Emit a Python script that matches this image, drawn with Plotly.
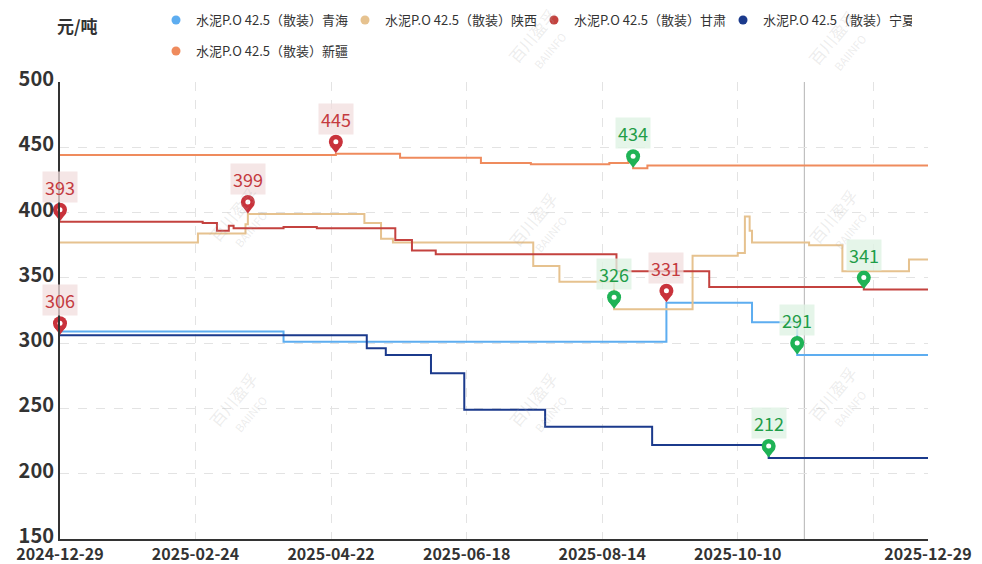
import plotly.graph_objects as go

# ---------------- data ----------------
series_names = [
    "水泥P.O 42.5（散装）青海",
    "水泥P.O 42.5（散装）陕西",
    "水泥P.O 42.5（散装）甘肃",
    "水泥P.O 42.5（散装）宁夏",
    "水泥P.O 42.5（散装）新疆",
]
series_colors = ["#5dadf0", "#e6c28f", "#c4423f", "#1b3a8c", "#ef8b5d"]

qinghai_dates = ["2024-12-29", "2025-04-02", "2025-09-10", "2025-10-16", "2025-11-04", "2025-12-29"]
qinghai_values = [309, 301, 331, 316, 291, 291]

shaanxi_dates = ["2024-12-29", "2025-02-25", "2025-03-17", "2025-03-18", "2025-05-06", "2025-05-13",
                 "2025-05-18", "2025-07-16", "2025-07-27", "2025-08-19", "2025-09-21", "2025-10-10",
                 "2025-10-13", "2025-10-15", "2025-10-16", "2025-11-09", "2025-11-23", "2025-12-21",
                 "2025-12-29"]
shaanxi_values = [377, 384, 391, 399, 392, 380, 377, 359, 347, 326, 367, 369, 397, 386, 377, 375, 355, 364, 364]

gansu_dates = ["2024-12-29", "2025-02-27", "2025-03-05", "2025-03-10", "2025-03-12", "2025-04-02",
               "2025-04-16", "2025-05-19", "2025-05-26", "2025-06-05", "2025-08-20", "2025-09-28",
               "2025-12-02", "2025-12-29"]
gansu_values = [393, 392, 386, 390, 388, 389, 388, 379, 371, 368, 355, 343, 341, 341]

ningxia_dates = ["2024-12-29", "2025-05-07", "2025-05-15", "2025-06-03", "2025-06-17", "2025-07-21",
                 "2025-09-04", "2025-10-23", "2025-12-29"]
ningxia_values = [306, 296, 291, 277, 249, 236, 222, 212, 212]

xinjiang_dates = ["2024-12-29", "2025-04-24", "2025-05-21", "2025-06-24", "2025-07-15", "2025-08-17",
                  "2025-08-25", "2025-08-26", "2025-08-27", "2025-09-02", "2025-12-29"]
xinjiang_values = [444, 445, 442, 438, 437, 438, 439, 443, 434, 436, 436]

x_tickvals = ["2024-12-29", "2025-02-24", "2025-04-22", "2025-06-18", "2025-08-14",
              "2025-10-10", "2025-12-06", "2025-12-29"]
x_ticktext = ["2024-12-29", "2025-02-24", "2025-04-22", "2025-06-18", "2025-08-14",
              "2025-10-10", "", "2025-12-29"]
y_tickvals = [150, 200, 250, 300, 350, 400, 450, 500]
crosshair_date = "2025-11-07"
unit_label = "元/吨"
watermark_text = "百川盈孚<br><span style='font-size:11px'>BAIINFO</span>"

all_dates = [qinghai_dates, shaanxi_dates, gansu_dates, ningxia_dates, xinjiang_dates]
all_values = [qinghai_values, shaanxi_values, gansu_values, ningxia_values, xinjiang_values]

# ---------------- layout constants ----------------
W, H = 982, 564
ML, MR, MT, MB = 60, 54, 82, 25
PLOT_W = W - ML - MR
PLOT_H = H - MT - MB
Y0, Y1 = 150, 500
UNIT_PER_PX = (Y1 - Y0) / PLOT_H
FONT = "Noto Sans CJK SC"


def px_x(px):
    return (px - ML) / PLOT_W


def px_y(py):
    return (H - MB - py) / PLOT_H


fig = go.Figure()

for name, color, d, v in zip(series_names, series_colors, all_dates, all_values):
    fig.add_trace(go.Scatter(x=d, y=v, mode="lines", line=dict(color=color, width=2, shape="hv"),
                             name=name, showlegend=False, hoverinfo="skip"))

# legend entries (circle symbols)
for i, (name, color) in enumerate(zip(series_names, series_colors)):
    fig.add_trace(go.Scatter(x=[None], y=[None], mode="markers",
                             marker=dict(color=color, size=9, symbol="circle"),
                             name=name, legend="legend" if i < 4 else "legend2"))

# max / min pins
pins = {"max": dict(x=[], y=[], color="#c9323b", text="#c43a3f", bg="rgba(242,222,222,0.75)"),
        "min": dict(x=[], y=[], color="#1fb356", text="#1f9d48", bg="rgba(222,242,228,0.8)")}
for d, v in zip(all_dates, all_values):
    imax = v.index(max(v))
    imin = v.index(min(v))
    pins["max"]["x"].append(d[imax]); pins["max"]["y"].append(v[imax])
    pins["min"]["x"].append(d[imin]); pins["min"]["y"].append(v[imin])

for key, p in pins.items():
    tri_y = [y + 6 * UNIT_PER_PX for y in p["y"]]
    head_y = [y + 12 * UNIT_PER_PX for y in p["y"]]
    fig.add_trace(go.Scatter(x=p["x"], y=tri_y, mode="markers", cliponaxis=False, showlegend=False,
                             hoverinfo="skip",
                             marker=dict(symbol="triangle-down", size=11, color=p["color"], line=dict(width=0))))
    fig.add_trace(go.Scatter(x=p["x"], y=head_y, mode="markers", cliponaxis=False, showlegend=False,
                             hoverinfo="skip",
                             marker=dict(symbol="circle", size=14, color=p["color"], line=dict(width=0))))
    fig.add_trace(go.Scatter(x=p["x"], y=head_y, mode="markers", cliponaxis=False, showlegend=False,
                             hoverinfo="skip",
                             marker=dict(symbol="circle", size=5, color="white", line=dict(width=0))))
    for x, y in zip(p["x"], p["y"]):
        fig.add_annotation(x=x, y=y, text=str(y), showarrow=False, yshift=35,
                           font=dict(family=FONT, size=18, color=p["text"]),
                           bgcolor=p["bg"], borderpad=2)

# crosshair line
fig.add_shape(type="line", x0=crosshair_date, x1=crosshair_date, xref="x", yref="paper", y0=0, y1=1,
              line=dict(color="#b4b4b4", width=1), layer="below")

# watermarks
for wx, wy in [(240, 220), (540, 225), (840, 222), (240, 405), (540, 405), (840, 400), (540, 42), (840, 44)]:
    fig.add_annotation(xref="paper", yref="paper", x=px_x(wx), y=px_y(wy), xanchor="center", yanchor="middle",
                       text=watermark_text, showarrow=False, textangle=-50,
                       font=dict(family=FONT, size=16, color="rgba(170,170,170,0.22)"))

# unit title
fig.add_annotation(xref="paper", yref="paper", x=px_x(77), y=px_y(25), xanchor="center", yanchor="middle",
                   text="<b>" + unit_label + "</b>", showarrow=False,
                   font=dict(family=FONT, size=17, color="#333333"))

fig.update_layout(
    width=W, height=H,
    margin=dict(l=ML, r=MR, t=MT, b=MB, autoexpand=False),
    paper_bgcolor="white", plot_bgcolor="white",
    font=dict(family=FONT, color="#333333"),
    legend=dict(orientation="h", x=px_x(156), xanchor="left",
                y=px_y(20), yanchor="middle",
                font=dict(family=FONT, size=13, color="#333333"),
                entrywidth=144, entrywidthmode="pixels", itemwidth=30, bgcolor="rgba(0,0,0,0)"),
    legend2=dict(orientation="h", x=px_x(156), xanchor="left",
                 y=px_y(51), yanchor="middle",
                 font=dict(family=FONT, size=13, color="#333333"),
                 itemwidth=30, bgcolor="rgba(0,0,0,0)"),
    xaxis=dict(type="date", range=[x_tickvals[0], x_tickvals[-1]], tickvals=x_tickvals, ticktext=x_ticktext,
               showgrid=True, gridcolor="#e3e3e3", griddash="dash", gridwidth=1,
               showline=True, linecolor="#333333", linewidth=2, ticks="", automargin=False,
               ticklabelstandoff=0,
               tickfont=dict(family=FONT, size=16, color="#333333", weight="bold")),
    yaxis=dict(range=[Y0, Y1], tickvals=y_tickvals, showgrid=True, gridcolor="#e3e3e3", griddash="dash",
               gridwidth=1, zeroline=False, showline=True, linecolor="#333333", linewidth=2, ticks="",
               ticklabelshift=-3,
               automargin=False, tickfont=dict(family=FONT, size=20, color="#333333", weight="bold")),
    hovermode=False,
)

fig.write_html("out.html", config={"displayModeBar": False},
               post_script="document.body.style.margin='0px';")
